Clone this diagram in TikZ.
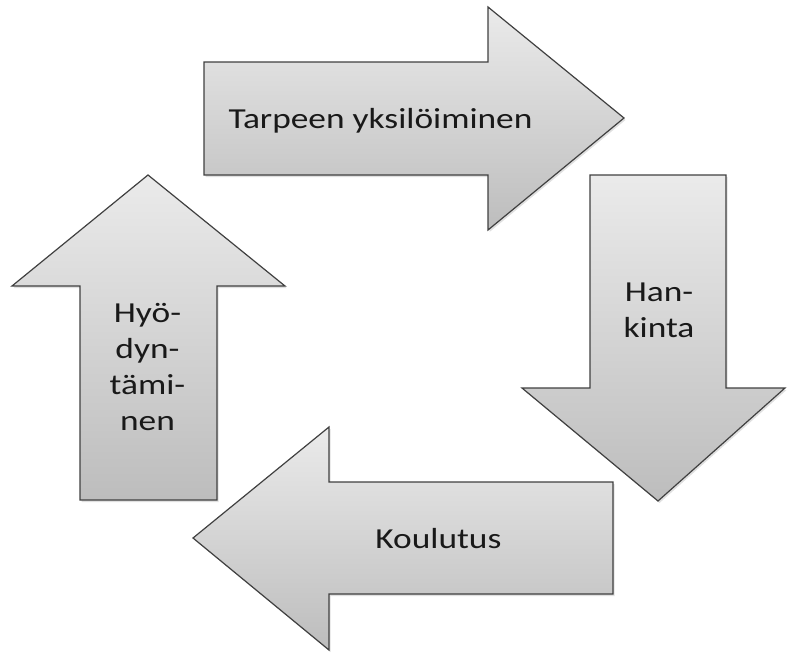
\documentclass[tikz,border=0pt]{standalone}
\usepackage{fontspec}
\setmainfont{Carlito}[FakeStretch=1.22]
\begin{document}
\begin{tikzpicture}[x=1pt,y=-1pt,
  arrowshape/.style={draw=black!75,line width=1.2pt,line join=miter,top color=black!8,bottom color=black!26},
  shadowshape/.style={fill=black!12,draw=none},
  lbl/.style={font=\fontsize{29}{36}\selectfont,align=center,text=black!90,inner sep=0pt}]
\useasboundingbox (0,0) rectangle (787,653);
% top arrow (right)
\filldraw[shadowshape,shift={(1.5,2)}] (204,62) -- (488,62) -- (488,7) -- (624,118) -- (488,230) -- (488,175) -- (204,175) -- cycle;
\path[arrowshape] (204,62) -- (488,62) -- (488,7) -- (624,118) -- (488,230) -- (488,175) -- (204,175) -- cycle;
% right arrow (down)
\filldraw[shadowshape,shift={(1.5,2)}] (590,175) -- (726,175) -- (726,388) -- (785,388) -- (658,501) -- (522,388) -- (590,388) -- cycle;
\path[arrowshape] (590,175) -- (726,175) -- (726,388) -- (785,388) -- (658,501) -- (522,388) -- (590,388) -- cycle;
% bottom arrow (left)
\filldraw[shadowshape,shift={(1.5,2)}] (613,482) -- (613,594) -- (329,594) -- (329,650) -- (193,538) -- (329,427) -- (329,482) -- cycle;
\path[arrowshape] (613,482) -- (613,594) -- (329,594) -- (329,650) -- (193,538) -- (329,427) -- (329,482) -- cycle;
% left arrow (up)
\filldraw[shadowshape,shift={(1.5,2)}] (80,500) -- (80,286) -- (12,286) -- (148,175) -- (285,286) -- (217,286) -- (217,500) -- cycle;
\path[arrowshape] (80,500) -- (80,286) -- (12,286) -- (148,175) -- (285,286) -- (217,286) -- (217,500) -- cycle;
% labels
\node[lbl,anchor=base] (tarve) at (380.5,128.5) {Tarpeen yksilöiminen};
\node[lbl] (hankinta) at (659,310) {Han-\\kinta};
\node[lbl,anchor=base] (koulutus) at (438.4,548.3) {Koulutus};
\node[lbl] (hyod) at (147.5,367) {Hyö-\\dyn-\\tämi-\\nen};
\end{tikzpicture}
\end{document}
